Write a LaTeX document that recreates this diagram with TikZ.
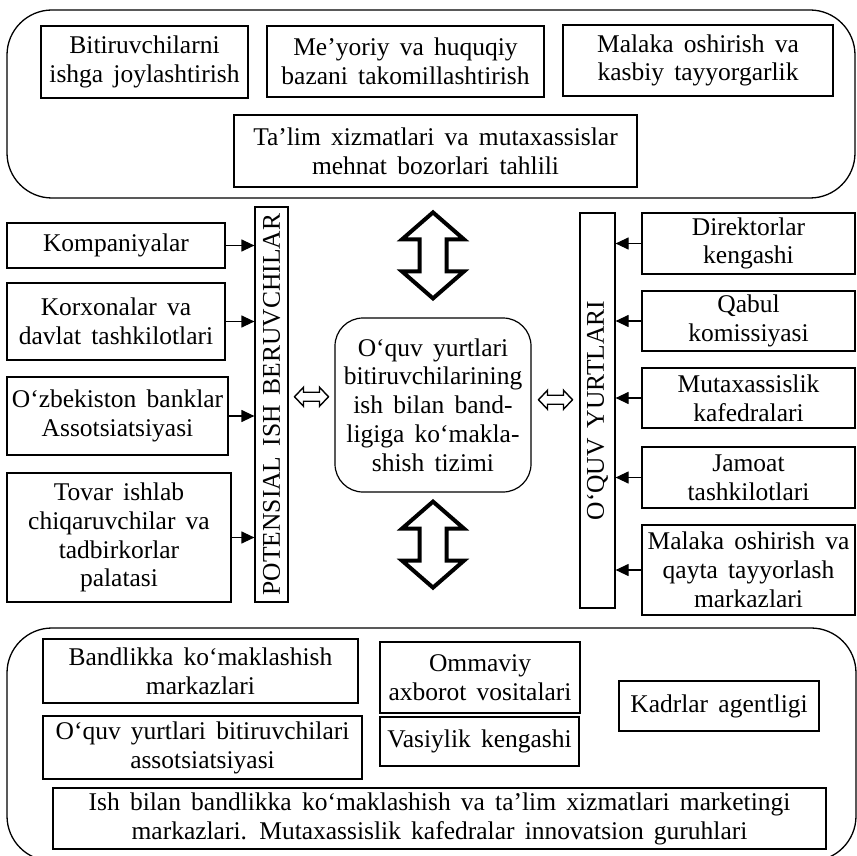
\documentclass[tikz,border=0pt]{standalone}
\usepackage{fontspec}
\setmainfont{Liberation Serif}[WordSpace=1.6]
\usetikzlibrary{arrows.meta,calc}

\tikzset{
  txt/.style={font=\fontsize{25.5}{28.8}\selectfont, align=center, text=black},
  box/.style={txt, draw, line width=1.2pt, inner sep=0pt},
  sz/.style 2 args={minimum width=#1, minimum height=#2},
  panel/.style={draw, line width=1.3pt, rounded corners=45pt, inner sep=0pt},
  hub/.style={box, rounded corners=28pt},
  feed/.style={line width=1.2pt, -{Triangle[length=13pt,width=12pt]}},
  bigdbl/.pic={
    \draw[line width=4pt, fill=white]
      (0,-43) -- (31,-16) -- (13.5,-16) -- (13.5,16) -- (31,16) -- (0,43)
      -- (-31,16) -- (-13.5,16) -- (-13.5,-16) -- (-31,-16) -- cycle;
  },
  smalldbl/.pic={
    \draw[line width=1.4pt, fill=white]
      (-17,0) -- (-8,-9.5) -- (-8,-4.5) -- (8,-4.5) -- (8,-9.5) -- (17,0)
      -- (8,9.5) -- (8,4.5) -- (-8,4.5) -- (-8,9.5) -- cycle;
  }
}

\begin{document}
\begin{tikzpicture}[x=1pt,y=-1pt]
\useasboundingbox (0,0) rectangle (857,856);
\clip (0,0) rectangle (857,856);

% upper and lower frames
\node[panel, sz={848}{188}] (toppanel) at (431,104) {};
\node[panel, sz={849}{233}] (botpanel) at (431.5,744.5) {};

% upper frame contents
\node[box, sz={207}{72}] (t1) at (144.5,62) {Bitiruvchilarni\\ishga joylashtirish};
\node[box, sz={277}{71}] (t2) at (405.5,61.5) {Me’yoriy va huquqiy\\bazani takomillashtirish};
\node[box, sz={270}{71}] (t3) at (698,60.5) {Malaka oshirish va\\kasbiy tayyorgarlik};
\node[box, sz={403}{72}] (t4) at (435.5,151) {Ta’lim xizmatlari va mutaxassislar\\mehnat bozorlari tahlili};

% employers
\node[box, sz={218}{45}] (l1) at (116,245.5) {Kompaniyalar};
\node[box, sz={218}{77}] (l2) at (116,321.5) {Korxonalar va\\davlat tashkilotlari};
\node[box, sz={221}{78}] (l3) at (117.5,416) {O‘zbekiston banklar\\Assotsiatsiyasi};
\node[box, sz={224}{129}] (l4) at (119,537.5) {Tovar ishlab\\chiqaruvchilar va\\tadbirkorlar\\palatasi};
\node[box, rotate=90, sz={395}{33}] (pv) at (271.5,404.5) {POTENSIAL ISH BERUVCHILAR};

% central system
\node[hub, sz={196}{174}] (ctr) at (433,405) {O‘quv yurtlari\\bitiruvchilarining\\ish bilan band-\\ligiga ko‘makla-\\shish tizimi};

% educational institutions
\node[box, rotate=90, sz={395}{35}] (ov) at (597.5,410.5) {O‘QUV YURTLARI};
\node[box, sz={213}{61}] (r1) at (748.5,243.5) {Direktorlar\\kengashi};
\node[box, sz={213}{60}] (r2) at (748.5,321) {Qabul\\komissiyasi};
\node[box, sz={213}{60}] (r3) at (748.5,398) {Mutaxassislik\\kafedralari};
\node[box, sz={213}{61}] (r4) at (748.5,477.5) {Jamoat\\tashkilotlari};
\node[box, sz={213}{90}] (r5) at (748.5,570) {Malaka oshirish va\\qayta tayyorlash\\markazlari};

% lower frame contents
\node[box, sz={315}{64}] (b1) at (200.5,671) {Bandlikka ko‘maklashish\\markazlari};
\node[box, sz={319}{63}] (b2) at (202.5,747.5) {O‘quv yurtlari bitiruvchilari\\assotsiatsiyasi};
\node[box, sz={200}{71}] (b3) at (480,677.5) {Ommaviy\\axborot vositalari};
\node[box, sz={199}{49}] (b4) at (479.5,741.5) {Vasiylik kengashi};
\node[box, sz={200}{50}] (b5) at (719,706) {Kadrlar agentligi};
\node[box, sz={773}{61}] (b6) at (439.5,818.5) {Ish bilan bandlikka ko‘maklashish va ta’lim xizmatlari marketingi\\markazlari. Mutaxassislik kafedralar innovatsion guruhlari};

% feeding arrows
\foreach \n in {l1,l2,l3,l4}
  \draw[feed] (\n.east) -- (\n.east -| pv.north);
\foreach \n in {r1,r2,r3,r4,r5}
  \draw[feed] (\n.west) -- (\n.west -| ov.south);

% two-way links
\path (ctr.north) ++(0,-62) pic {bigdbl};
\path (ctr.south) ++(0,52) pic {bigdbl};
\path ($(pv.south)!0.5!(ctr.west)$) ++(0,-8) pic {smalldbl};
\path ($(ctr.east)!0.5!(ov.north)$) ++(0,-8) pic {smalldbl};
\end{tikzpicture}
\end{document}
